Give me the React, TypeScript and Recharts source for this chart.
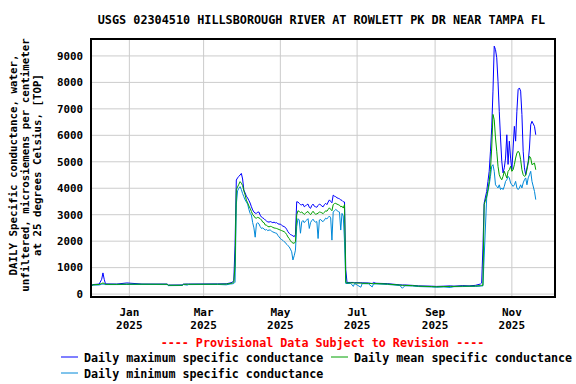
import { LineChart, Line, XAxis, YAxis, CartesianGrid } from "recharts"

// day number counted from 1 Jan 2025 (Dec 2024 is negative)
const days = [
  -31, -29, -24, -22, -21, -20, -19, -10, -2, 10, 30, 31, 42, 43, 46, 47, 70, 77, 80, 82, 83,
  84, 85, 86, 87, 88, 89, 90, 91, 92, 93, 94, 95, 96, 97, 98, 99, 100, 101, 102, 103, 104,
  105, 106, 107, 108, 109, 110, 111, 112, 113, 114, 115, 116, 117, 118, 119, 120, 121, 122,
  123, 124, 125, 126, 127, 128, 129, 130, 131, 132, 133, 134, 135, 136, 137, 138, 139, 140,
  141, 142, 143, 144, 145, 146, 147, 148, 149, 150, 151, 152, 153, 154, 155, 156, 157, 158,
  159, 160, 161, 162, 163, 164, 165, 166, 167, 168, 169, 170, 171, 172, 173, 176, 178, 179,
  184, 185, 190, 193, 194, 196, 205, 215, 217, 219, 225, 230, 240, 244, 250, 255, 258, 265,
  270, 275, 279, 280, 281, 282, 284, 285, 286, 287, 288, 289, 290, 291, 292, 293, 294, 295,
  296, 297, 298, 299, 300, 301, 302, 303, 304, 305, 306, 307, 308, 309, 310, 311, 312, 313,
  314, 315, 316, 317, 318, 319, 320, 322, 323,
]

const maxSc = [
  300, 360, 380, 560, 800, 560, 385, 380, 420, 380, 380, 340, 345, 375, 380, 380, 385, 390, 420, 450, 520,
  1850, 4310, 4390, 4450, 4500, 4560, 4350, 3930, 3820, 3700, 3630, 3540, 3440, 3300, 3180, 3100, 3060, 3050, 3100, 3100, 2980,
  2910, 2880, 2850, 2800, 2760, 2730, 2720, 2740, 2720, 2700, 2720, 2690, 2700, 2660, 2640, 2650, 2600, 2570,
  2550, 2520, 2450, 2360, 2300, 2250, 2230, 2200, 2170, 2250, 3490, 3480, 3430, 3380, 3370, 3400, 3300, 3330,
  3380, 3400, 3280, 3240, 3350, 3400, 3320, 3300, 3280, 3350, 3400, 3380, 3320, 3300, 3380, 3430, 3380, 3480,
  3560, 3500, 3450, 3740, 3700, 3680, 3640, 3620, 3600, 3560, 3540, 3490, 3480, 920, 440, 440, 440, 430,
  430, 425, 420, 400, 440, 410, 395, 350, 345, 345, 330, 310, 300, 290, 300, 310, 300, 320,
  310, 330, 380, 420, 1740, 3440, 3880, 4260, 4640, 5400, 6280, 7670, 9370, 9240, 8930, 8040, 6910, 5900,
  5020, 4580, 4770, 5140, 6020, 4900, 5780, 5140, 4700, 5520, 6340, 5780, 6910, 7730, 7790, 7670, 6790, 5400,
  4770, 4510, 4770, 5000, 5520, 6400, 6530, 6340, 6020,
]

const meanSc = [
  290, 350, 365, 400, 420, 400, 370, 370, 375, 375, 372, 335, 335, 370, 372, 372, 375, 378, 400, 420, 450,
  1100, 3950, 4050, 4150, 4250, 4190, 4100, 3900, 3750, 3550, 3450, 3330, 3240, 3120, 3000, 2950, 2880, 2870, 2900, 2880, 2850,
  2800, 2720, 2700, 2610, 2600, 2560, 2540, 2560, 2550, 2520, 2500, 2490, 2480, 2460, 2440, 2420, 2400, 2380,
  2360, 2320, 2250, 2160, 2100, 2020, 1960, 1930, 1920, 1980, 2990, 3150, 3120, 3080, 3100, 3060, 3010, 3050,
  3100, 3120, 3050, 3000, 3070, 3130, 3060, 3020, 3030, 3060, 3100, 3090, 3070, 3040, 3090, 3150, 3130, 3200,
  3260, 3200, 3150, 3380, 3420, 3430, 3400, 3380, 3360, 3300, 3320, 3250, 3380, 440, 420, 425, 425, 420,
  415, 410, 405, 395, 400, 398, 380, 340, 330, 330, 320, 300, 285, 275, 285, 290, 290, 300,
  300, 305, 320, 330, 330, 3380, 3700, 3950, 4260, 4700, 5520, 6790, 6590, 5900, 5400, 4830, 4510, 4390,
  4320, 4450, 4640, 4510, 4390, 4640, 4700, 4830, 4640, 4700, 4890, 5140, 5330, 5400, 5330, 5080, 4700, 4510,
  4450, 4480, 4700, 4950, 5210, 5140, 4890, 4950, 4700,
]

const minSc = [
  280, 340, 345, 370, 380, 370, 360, 360, 365, 365, 360, 320, 325, 360, 340, 360, 365, 350, 380, 390, 400,
  450, 3400, 3900, 4000, 4060, 3950, 3800, 3680, 3560, 3480, 3400, 3200, 3050, 2990, 2700, 2500, 2150, 2650, 2700, 2650, 2550,
  2480, 2500, 2460, 2420, 2440, 2400, 2420, 2420, 2380, 2350, 2330, 2310, 2300, 2220, 2160, 2100, 2060, 2030,
  1980, 1950, 1880, 1830, 1790, 1700, 1600, 1290, 1450, 1660, 2550, 2850, 2800, 2300, 2730, 2780, 2700, 2760,
  2800, 2850, 2480, 2700, 2780, 2830, 2750, 2720, 2740, 2100, 2800, 2820, 2760, 2740, 2800, 2870, 2840, 2900,
  2950, 2880, 2040, 3100, 3150, 3200, 3160, 3120, 3100, 2420, 3050, 2950, 2000, 400, 400, 405, 290, 400,
  260, 395, 390, 270, 380, 385, 365, 325, 220, 315, 305, 285, 270, 260, 270, 250, 280, 285,
  290, 290, 300, 305, 310, 1400, 3630, 3880, 4130, 4450, 4830, 4890, 4640, 4130, 4070, 4010, 4130, 3950,
  4010, 3950, 4070, 4260, 4320, 4450, 4390, 4200, 4130, 4070, 4130, 4260, 4010, 3950, 4010, 4130, 4010, 4200,
  4320, 4390, 4130, 4390, 4510, 4640, 4260, 3880, 3570,
]

const xTicks = [0, 59, 120, 181, 243, 304]
const xTickMonths = ["Jan", "Mar", "May", "Jul", "Sep", "Nov"]
const xTickYear = "2025"
const yTicks = [0, 1000, 2000, 3000, 4000, 5000, 6000, 7000, 8000, 9000]

const rows = days.map((d, i) => ({ d, max: maxSc[i], mean: meanSc[i], min: minSc[i] }))

const font = "'DejaVu Sans Mono', monospace"
const MAX_C = "#0000ff"
const MEAN_C = "#00a000"
const MIN_C = "#0088d8"

function MonthTick(props: any) {
  const { x, y, payload } = props
  const i = xTicks.indexOf(payload.value)
  return (
    <g>
      <text x={x} y={y + 11} textAnchor="middle" fontFamily={font} fontWeight="bold" fontSize={11} fill="#000">
        {xTickMonths[i]}
      </text>
      <text x={x} y={y + 24} textAnchor="middle" fontFamily={font} fontWeight="bold" fontSize={11} fill="#000">
        {xTickYear}
      </text>
    </g>
  )
}

export default function App() {
  return (
    <div style={{ position: "absolute", left: 0, top: 0, width: 576, height: 384, background: "#fff" }}>
      <LineChart
        width={576}
        height={384}
        data={rows}
        margin={{ top: 39, right: 21, left: 41, bottom: 57 }}
      >
        <CartesianGrid stroke="#cccccc" strokeWidth={1} />
        <XAxis
          dataKey="d"
          type="number"
          domain={[-30.5, 338.3]}
          ticks={xTicks}
          allowDataOverflow
          axisLine={false}
          tickLine={false}
          height={30}
          tick={<MonthTick />}
        />
        <YAxis
          type="number"
          domain={[-110, 9640]}
          ticks={yTicks}
          allowDataOverflow
          axisLine={false}
          tickLine={false}
          width={50}
          tick={{ fontFamily: font, fontWeight: "bold", fontSize: 10.8, fill: "#000" }}
        />
        <Line dataKey="max" stroke={MAX_C} strokeWidth={1} dot={false} type="linear" isAnimationActive={false} />
        <Line dataKey="min" stroke={MIN_C} strokeWidth={1} dot={false} type="linear" isAnimationActive={false} />
        <Line dataKey="mean" stroke={MEAN_C} strokeWidth={1} dot={false} type="linear" isAnimationActive={false} />
      </LineChart>
      <svg width={576} height={384} style={{ position: "absolute", left: 0, top: 0, pointerEvents: "none" }}>
        <rect x={91} y={39} width={464} height={258} fill="none" stroke="#000" strokeWidth={2} />
        <text x={321.5} y={24} textAnchor="middle" fontFamily={font} fontWeight="bold" fontSize={11.8} fill="#000">
          USGS 02304510 HILLSBOROUGH RIVER AT ROWLETT PK DR NEAR TAMPA FL
        </text>
        <g fontFamily={font} fontWeight="bold" fontSize={10.8} fill="#000" textAnchor="middle">
          <text transform="translate(17,165) rotate(-90)">DAILY Specific conductance, water,</text>
          <text transform="translate(29,165) rotate(-90)">unfiltered, microsiemens per centimeter</text>
          <text transform="translate(41,165) rotate(-90)">at 25 degrees Celsius, [TOP]</text>
        </g>
        <text x={322.5} y={347} textAnchor="middle" fontFamily={font} fontWeight="bold" fontSize={11.7} fill="#ff0000">
          ---- Provisional Data Subject to Revision ----
        </text>
        <g fontFamily={font} fontWeight="bold" fontSize={11.7} fill="#000">
          <line x1={61} x2={78} y1={357} y2={357} stroke={MAX_C} strokeWidth={1} />
          <text x={84} y={361.5}>Daily maximum specific conductance</text>
          <line x1={331} x2={348} y1={357} y2={357} stroke={MEAN_C} strokeWidth={1} />
          <text x={354} y={361.5}>Daily mean specific conductance</text>
          <line x1={61} x2={78} y1={373} y2={373} stroke={MIN_C} strokeWidth={1} />
          <text x={84} y={377.5}>Daily minimum specific conductance</text>
        </g>
      </svg>
    </div>
  )
}
